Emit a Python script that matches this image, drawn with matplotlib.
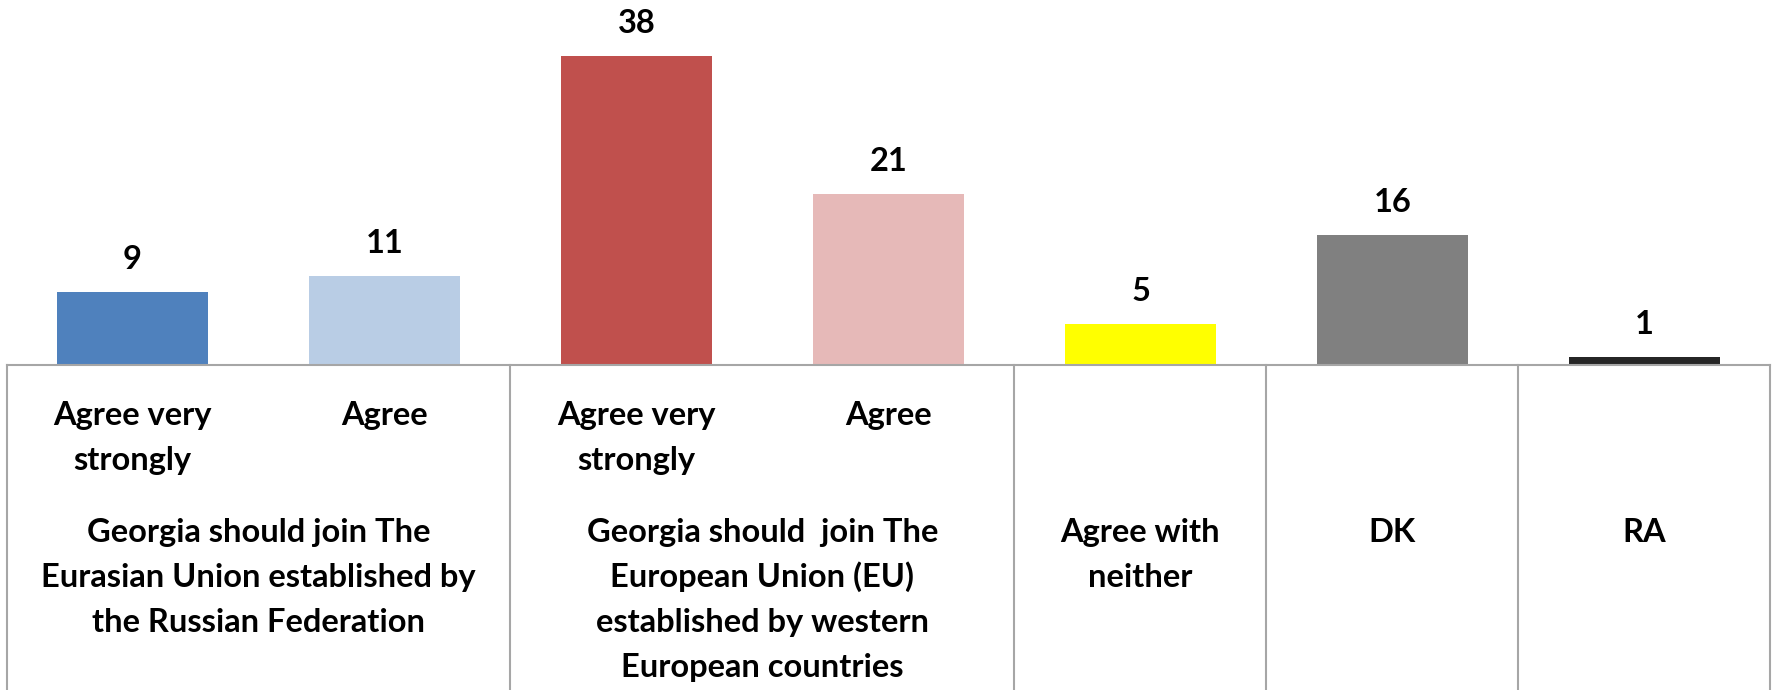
import numpy as np
import matplotlib
matplotlib.use("Agg")
import matplotlib.pyplot as plt
import matplotlib.transforms as mtransforms

# values (%)
answers = ["Agree very\nstrongly", "Agree", "Agree very\nstrongly", "Agree",
           "", "", ""]
values = [9, 11, 38, 21, 5, 16, 1]
bar_colors = ["#4F81BD", "#B9CDE5", "#C0504D", "#E6B9B8",
              "#FFFF00", "#808080", "#262626"]

groups = ["Georgia should join The\nEurasian Union established by\nthe Russian Federation",
          "Georgia should  join The\nEuropean Union (EU)\nestablished by western\nEuropean countries",
          "Agree with\nneither",
          "DK",
          "RA"]
group_spans = [(0, 1), (2, 3), (4, 4), (5, 5), (6, 6)]

W, H = 1777, 690
plt.rcParams['font.family'] = ['Lato', 'DejaVu Sans']
FS = 23.5

fig = plt.figure(figsize=(W / 100, H / 100), dpi=100)
base_px = 365
left_px, right_px = 6.5, 1770.5
ax = fig.add_axes([left_px / W, (H - base_px) / H, (right_px - left_px) / W, base_px / H])

x = np.arange(len(values))
ax.bar(x, values, width=0.6, color=bar_colors, zorder=2)
ax.set_xlim(-0.5, len(values) - 0.5)
ax.set_ylim(0, 44.9)
ax.axis("off")

for xi, v in zip(x, values):
    ax.annotate(str(v), (xi, v), xytext=(0, 16.5), textcoords="offset points",
                ha="center", va="baseline", fontsize=FS, fontweight="bold")

line_col = "#A6A6A6"
# blended: x in data, y in figure fraction
tr = mtransforms.blended_transform_factory(ax.transData, fig.transFigure)

def fy(px):
    return 1 - px / H

# baseline + table borders
ax.plot([-0.5, len(values) - 0.5], [fy(base_px), fy(base_px)], color=line_col,
        lw=1.5, transform=tr, clip_on=False, zorder=3)
bounds = [-0.5] + [s[1] + 0.5 for s in group_spans]
for b in bounds:
    ax.plot([b, b], [fy(base_px), 0], color=line_col, lw=1.5, transform=tr,
            clip_on=False, zorder=3)

line_gap = 45
for xi, lab in zip(x, answers):
    for k, ln in enumerate(lab.split("\n")):
        if ln:
            ax.text(xi, fy(425 + k * line_gap), ln, transform=tr, ha="center",
                    va="baseline", fontsize=FS, fontweight="bold")

for (a, b), lab in zip(group_spans, groups):
    xc = (a + b) / 2
    for k, ln in enumerate(lab.split("\n")):
        ax.text(xc, fy(542 + k * line_gap), ln, transform=tr, ha="center",
                va="baseline", fontsize=FS, fontweight="bold")

fig.savefig("out.png", dpi=100)
